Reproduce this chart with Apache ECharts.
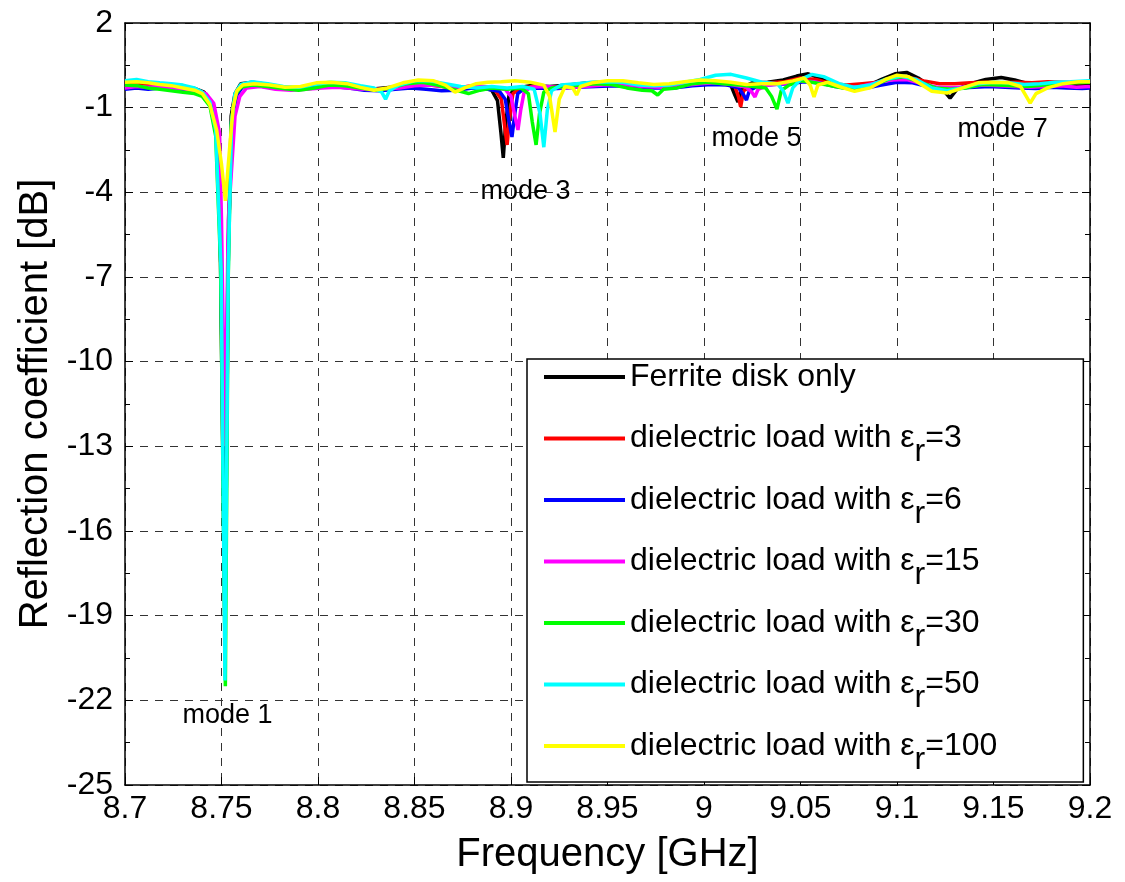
<!DOCTYPE html>
<html>
<head>
  <meta charset="UTF-8">
  <title>Reflection coefficient</title>
  <script type="text/javascript" src="https://cdn.jsdelivr.net/npm/echarts@6/dist/echarts.min.js"></script>
  <style>
    html, body { margin: 0; padding: 0; background: #fff; }
  </style>
</head>
<body>
<div id="main" style="width:1125px; height:882px;"></div>
<script>
  // ============ data ============
  var seriesNames = [
    'Ferrite disk only',
    'dielectric load with εr=3',
    'dielectric load with εr=6',
    'dielectric load with εr=15',
    'dielectric load with εr=30',
    'dielectric load with εr=50',
    'dielectric load with εr=100'
  ];
  var seriesColors = ['#000000', '#ff0000', '#0000ff', '#ff00ff', '#00ff00', '#00ffff', '#ffff00'];

  // [frequency GHz, dB]
  var ferrite = [
    [8.700,-0.05],[8.706,-0.1],[8.712,-0.12],[8.718,-0.15],[8.724,-0.2],[8.730,-0.25],[8.736,-0.32],[8.741,-0.45],
    [8.745,-0.85],[8.748,-1.9],[8.7495,-6.5],[8.7518,-19.8],[8.7535,-6.5],[8.755,-1.3],[8.757,-0.5],[8.760,-0.15],
    [8.766,-0.1],[8.774,-0.18],[8.782,-0.28],[8.790,-0.3],[8.798,-0.2],[8.806,-0.15],[8.814,-0.2],[8.822,-0.3],
    [8.830,-0.33],[8.838,-0.28],[8.846,-0.18],[8.854,-0.12],[8.862,-0.2],[8.870,-0.3],[8.878,-0.26],[8.885,-0.3],
    [8.890,-0.38],[8.893,-0.75],[8.8948,-1.9],[8.896,-2.78],[8.8972,-1.6],[8.899,-0.55],[8.903,-0.3],[8.910,-0.22],
    [8.920,-0.25],[8.930,-0.2],[8.940,-0.12],[8.950,-0.1],[8.960,-0.18],[8.970,-0.25],[8.980,-0.22],[8.990,-0.15],
    [9.000,-0.08],[9.008,-0.1],[9.014,-0.22],[9.016,-0.55],[9.0176,-0.8],[9.0195,-0.3],[9.025,-0.12],[9.033,-0.1],
    [9.041,-0.02],[9.048,0.12],[9.054,0.2],[9.060,0.05],[9.068,-0.18],[9.076,-0.28],[9.084,-0.25],[9.092,0.0],
    [9.099,0.2],[9.105,0.25],[9.111,0.05],[9.118,-0.28],[9.124,-0.38],[9.1275,-0.66],[9.131,-0.35],[9.138,-0.15],
    [9.146,0.0],[9.154,0.07],[9.161,-0.02],[9.168,-0.15],[9.176,-0.2],[9.184,-0.18],[9.192,-0.16],[9.200,-0.2]
  ];
  var er3 = [
    [8.700,-0.15],[8.706,-0.12],[8.712,-0.18],[8.718,-0.2],[8.724,-0.22],[8.730,-0.28],[8.736,-0.35],[8.741,-0.48],
    [8.745,-0.9],[8.748,-2.0],[8.7498,-6.5],[8.7518,-18.5],[8.7535,-6.0],[8.7555,-1.4],[8.758,-0.5],[8.761,-0.2],
    [8.768,-0.15],[8.776,-0.22],[8.784,-0.3],[8.792,-0.28],[8.800,-0.22],[8.808,-0.2],[8.816,-0.25],[8.824,-0.32],
    [8.832,-0.35],[8.840,-0.28],[8.848,-0.2],[8.856,-0.18],[8.864,-0.25],[8.872,-0.3],[8.880,-0.22],[8.887,-0.28],
    [8.892,-0.4],[8.895,-0.7],[8.8968,-1.7],[8.898,-2.32],[8.8993,-1.3],[8.901,-0.5],[8.905,-0.3],[8.912,-0.25],
    [8.922,-0.28],[8.932,-0.22],[8.942,-0.18],[8.952,-0.15],[8.962,-0.2],[8.972,-0.28],[8.982,-0.25],[8.992,-0.18],
    [9.002,-0.12],[9.010,-0.15],[9.016,-0.25],[9.0178,-0.6],[9.019,-0.97],[9.0205,-0.4],[9.026,-0.18],[9.034,-0.12],
    [9.042,-0.08],[9.050,0.05],[9.058,0.0],[9.066,-0.15],[9.074,-0.2],[9.082,-0.15],[9.090,-0.1],[9.098,0.05],
    [9.106,0.08],[9.114,-0.05],[9.122,-0.15],[9.130,-0.15],[9.138,-0.12],[9.146,-0.1],[9.154,-0.12],[9.162,-0.1],
    [9.170,-0.12],[9.178,-0.08],[9.186,-0.1],[9.194,-0.12],[9.200,-0.1]
  ];
  var er6 = [
    [8.700,-0.35],[8.706,-0.3],[8.712,-0.35],[8.718,-0.3],[8.724,-0.32],[8.730,-0.35],[8.736,-0.4],[8.741,-0.52],
    [8.745,-0.95],[8.748,-2.1],[8.7495,-6.0],[8.7516,-16.5],[8.7535,-5.8],[8.7555,-1.4],[8.758,-0.55],[8.761,-0.25],
    [8.768,-0.22],[8.776,-0.28],[8.784,-0.35],[8.792,-0.33],[8.800,-0.28],[8.808,-0.25],[8.816,-0.3],[8.824,-0.38],
    [8.832,-0.4],[8.840,-0.35],[8.848,-0.3],[8.856,-0.35],[8.864,-0.4],[8.872,-0.38],[8.880,-0.3],[8.888,-0.35],
    [8.894,-0.42],[8.897,-0.7],[8.899,-1.5],[8.9005,-2.04],[8.902,-1.2],[8.9035,-0.5],[8.907,-0.32],[8.914,-0.3],
    [8.924,-0.32],[8.934,-0.28],[8.944,-0.25],[8.954,-0.22],[8.964,-0.25],[8.974,-0.3],[8.984,-0.3],[8.994,-0.22],
    [9.004,-0.18],[9.012,-0.2],[9.018,-0.3],[9.0205,-0.55],[9.022,-0.73],[9.0235,-0.4],[9.028,-0.22],[9.036,-0.18],
    [9.044,-0.15],[9.052,-0.08],[9.060,-0.12],[9.068,-0.25],[9.076,-0.32],[9.084,-0.3],[9.092,-0.2],[9.100,-0.1],
    [9.108,-0.12],[9.116,-0.25],[9.124,-0.32],[9.132,-0.3],[9.140,-0.28],[9.148,-0.25],[9.156,-0.28],[9.164,-0.3],
    [9.172,-0.32],[9.180,-0.28],[9.188,-0.3],[9.196,-0.32],[9.200,-0.3]
  ];
  var er15 = [
    [8.700,-0.3],[8.706,-0.25],[8.712,-0.28],[8.718,-0.25],[8.724,-0.3],[8.730,-0.33],[8.736,-0.38],[8.742,-0.5],
    [8.746,-0.85],[8.749,-1.9],[8.750,-5.0],[8.7518,-13.0],[8.7535,-5.0],[8.757,-1.3],[8.7595,-0.6],[8.763,-0.3],
    [8.770,-0.25],[8.778,-0.35],[8.786,-0.38],[8.794,-0.35],[8.802,-0.3],[8.810,-0.28],[8.818,-0.32],[8.826,-0.36],
    [8.834,-0.35],[8.842,-0.3],[8.850,-0.22],[8.858,-0.2],[8.866,-0.25],[8.874,-0.28],[8.882,-0.22],[8.890,-0.28],
    [8.897,-0.35],[8.900,-0.6],[8.902,-1.3],[8.9036,-1.79],[8.905,-1.1],[8.9068,-0.45],[8.910,-0.28],[8.918,-0.25],
    [8.928,-0.3],[8.938,-0.25],[8.948,-0.2],[8.958,-0.18],[8.968,-0.25],[8.978,-0.28],[8.988,-0.22],[8.998,-0.15],
    [9.006,-0.12],[9.014,-0.18],[9.022,-0.28],[9.0248,-0.45],[9.0264,-0.62],[9.028,-0.35],[9.033,-0.2],[9.041,-0.15],
    [9.049,-0.05],[9.057,-0.08],[9.065,-0.2],[9.073,-0.28],[9.081,-0.25],[9.089,-0.12],[9.097,-0.02],[9.105,0.0],
    [9.113,-0.15],[9.121,-0.28],[9.129,-0.3],[9.137,-0.25],[9.145,-0.2],[9.153,-0.22],[9.161,-0.25],[9.169,-0.28],
    [9.177,-0.25],[9.185,-0.22],[9.193,-0.28],[9.200,-0.25]
  ];
  var er30 = [
    [8.700,-0.2],[8.706,-0.22],[8.712,-0.3],[8.718,-0.35],[8.724,-0.4],[8.730,-0.45],[8.736,-0.5],[8.740,-0.6],
    [8.744,-0.95],[8.747,-2.0],[8.7495,-6.5],[8.752,-21.5],[8.7535,-7.0],[8.755,-1.6],[8.757,-0.55],[8.760,-0.28],
    [8.766,-0.2],[8.774,-0.25],[8.782,-0.32],[8.790,-0.38],[8.798,-0.3],[8.806,-0.2],[8.814,-0.22],[8.822,-0.3],
    [8.830,-0.38],[8.838,-0.3],[8.846,-0.15],[8.854,-0.1],[8.862,-0.2],[8.870,-0.35],[8.878,-0.5],[8.884,-0.38],
    [8.890,-0.3],[8.898,-0.35],[8.905,-0.3],[8.909,-0.5],[8.911,-1.5],[8.913,-2.32],[8.9148,-1.2],[8.917,-0.45],
    [8.921,-0.3],[8.928,-0.25],[8.936,-0.2],[8.944,-0.15],[8.952,-0.18],[8.960,-0.3],[8.968,-0.38],[8.973,-0.4],
    [8.976,-0.55],[8.979,-0.35],[8.986,-0.3],[8.994,-0.15],[9.002,-0.1],[9.010,-0.15],[9.018,-0.2],[9.026,-0.25],
    [9.032,-0.3],[9.035,-0.6],[9.0378,-1.05],[9.040,-0.4],[9.044,-0.2],[9.050,-0.05],[9.056,-0.1],[9.064,-0.2],
    [9.072,-0.3],[9.080,-0.35],[9.088,-0.2],[9.096,0.02],[9.104,0.1],[9.112,-0.1],[9.120,-0.3],[9.128,-0.35],
    [9.136,-0.3],[9.144,-0.18],[9.152,-0.2],[9.160,-0.22],[9.168,-0.25],[9.176,-0.2],[9.184,-0.15],[9.192,-0.12],
    [9.200,-0.1]
  ];
  var er50 = [
    [8.700,-0.05],[8.706,0.0],[8.712,-0.08],[8.718,-0.12],[8.724,-0.15],[8.730,-0.2],[8.736,-0.3],[8.740,-0.45],
    [8.744,-0.8],[8.747,-1.8],[8.7498,-6.8],[8.7518,-21.3],[8.7535,-6.8],[8.7552,-1.5],[8.757,-0.5],[8.760,-0.18],
    [8.766,-0.08],[8.774,-0.15],[8.782,-0.25],[8.790,-0.28],[8.798,-0.18],[8.806,-0.1],[8.814,-0.12],[8.822,-0.22],
    [8.829,-0.3],[8.833,-0.45],[8.835,-0.7],[8.837,-0.4],[8.842,-0.2],[8.850,-0.05],[8.858,-0.05],[8.866,-0.15],
    [8.874,-0.25],[8.882,-0.3],[8.890,-0.25],[8.898,-0.3],[8.906,-0.25],[8.912,-0.35],[8.915,-1.2],[8.917,-2.4],
    [8.9188,-1.1],[8.921,-0.4],[8.926,-0.2],[8.934,-0.15],[8.942,-0.1],[8.950,-0.08],[8.958,-0.1],[8.966,-0.2],
    [8.974,-0.22],[8.982,-0.2],[8.990,-0.1],[8.998,0.0],[9.006,0.15],[9.014,0.18],[9.022,0.05],[9.030,-0.1],
    [9.038,-0.15],[9.041,-0.4],[9.0435,-0.84],[9.046,-0.3],[9.050,0.0],[9.056,0.18],[9.062,0.1],[9.070,-0.15],
    [9.078,-0.28],[9.086,-0.2],[9.094,0.0],[9.102,0.12],[9.110,0.0],[9.118,-0.3],[9.126,-0.4],[9.134,-0.3],
    [9.142,-0.15],[9.150,-0.1],[9.158,-0.12],[9.166,-0.18],[9.174,-0.15],[9.182,-0.1],[9.190,-0.08],[9.200,-0.05]
  ];
  var er100 = [
    [8.700,-0.1],[8.706,-0.08],[8.712,-0.12],[8.718,-0.18],[8.724,-0.22],[8.730,-0.3],[8.736,-0.38],[8.740,-0.5],
    [8.744,-0.9],[8.7475,-1.8],[8.750,-3.0],[8.752,-4.3],[8.754,-2.6],[8.756,-1.0],[8.758,-0.4],[8.761,-0.2],
    [8.767,-0.15],[8.775,-0.2],[8.783,-0.28],[8.791,-0.25],[8.799,-0.12],[8.807,-0.1],[8.815,-0.15],[8.822,-0.28],
    [8.829,-0.38],[8.836,-0.3],[8.844,-0.12],[8.852,-0.02],[8.860,-0.05],[8.866,-0.2],[8.871,-0.45],[8.876,-0.3],
    [8.882,-0.15],[8.888,-0.1],[8.895,-0.08],[8.902,-0.05],[8.910,-0.1],[8.917,-0.2],[8.920,-0.6],[8.9228,-1.86],
    [8.925,-0.7],[8.928,-0.25],[8.932,-0.3],[8.934,-0.55],[8.936,-0.25],[8.942,-0.12],[8.950,-0.05],[8.958,-0.05],
    [8.966,-0.12],[8.974,-0.18],[8.982,-0.15],[8.990,-0.08],[8.998,-0.02],[9.006,-0.05],[9.014,-0.1],[9.022,-0.18],
    [9.030,-0.15],[9.038,-0.15],[9.046,-0.05],[9.052,0.05],[9.055,-0.2],[9.057,-0.62],[9.059,-0.2],[9.064,-0.1],
    [9.070,-0.25],[9.078,-0.42],[9.086,-0.3],[9.094,0.0],[9.100,0.15],[9.106,0.1],[9.112,-0.15],[9.118,-0.42],
    [9.126,-0.48],[9.134,-0.3],[9.142,-0.12],[9.150,-0.1],[9.158,-0.12],[9.164,-0.25],[9.167,-0.6],[9.169,-0.84],
    [9.172,-0.5],[9.178,-0.3],[9.186,-0.15],[9.194,-0.08],[9.200,-0.08]
  ];
  var seriesData = [ferrite, er3, er6, er15, er30, er50, er100];

  // mode annotations
  var modeNames = ['mode 1', 'mode 3', 'mode 5', 'mode 7'];
  var modeFreq = [8.7534, 8.9078, 9.0275, 9.155];
  var modeDb = [-22.55, -3.99, -2.11, -1.79];

  var FONT = "'Liberation Sans', Arial, Helvetica, sans-serif";

  var chart = echarts.init(document.getElementById('main'), null, {renderer: 'canvas'});

  var series = seriesNames.map(function (name, i) {
    return {
      name: name,
      type: 'line',
      data: seriesData[i],
      symbol: 'none',
      showSymbol: false,
      animation: false,
      lineStyle: {color: seriesColors[i], width: 3.5},
      itemStyle: {color: seriesColors[i]},
      z: 2 + i
    };
  });

  series.push({
    name: 'modes',
    type: 'scatter',
    symbolSize: 1,
    animation: false,
    silent: true,
    itemStyle: {color: 'rgba(0,0,0,0)'},
    data: modeNames.map(function (m, i) { return {name: m, value: [modeFreq[i], modeDb[i]]}; }),
    label: {
      show: true,
      position: [0, 0],
      align: 'center',
      verticalAlign: 'middle',
      formatter: '{b}',
      color: '#000',
      opacity: 1,
      textBorderWidth: 0,
      fontFamily: FONT,
      fontSize: 27
    },
    z: 20
  });

  var gridLine = {show: true, lineStyle: {color: '#333', type: [8, 7], width: 1}};

  var option = {
    backgroundColor: '#fff',
    animation: false,
    grid: {left: 125, right: 35, top: 23, bottom: 97, containLabel: false},
    legend: {
      data: seriesNames,
      orient: 'vertical',
      left: 527,
      top: 359,
      padding: [0, 86, 6, 17],
      itemGap: 13.5,
      itemWidth: 81,
      itemHeight: 4,
      icon: 'rect',
      backgroundColor: '#fff',
      borderColor: '#000',
      borderWidth: 1.5,
      borderRadius: 0,
      selectedMode: false,
      formatter: function (name) {
        var m = name.match(/^dielectric load with εr=(\d+)$/);
        // every row gets the same subscript slot so the rows stay evenly spaced
        if (!m) return '{t|' + name + '}{s| }';
        return '{t|dielectric load with ε}{s|r}{t|=' + m[1] + '}';
      },
      textStyle: {
        color: '#000',
        fontFamily: FONT,
        fontSize: 32,
        rich: {
          t: {fontFamily: FONT, fontSize: 32, lineHeight: 36, color: '#000'},
          s: {fontFamily: FONT, fontSize: 32, lineHeight: 1, verticalAlign: 'top', padding: [16, 0, 0, 0], color: '#000'}
        }
      }
    },
    xAxis: [{
      type: 'value',
      min: 8.7,
      max: 9.2,
      interval: 0.05,
      name: 'Frequency [GHz]',
      nameLocation: 'middle',
      nameGap: 50,
      nameTextStyle: {fontFamily: FONT, fontSize: 40, color: '#000'},
      axisLine: {show: true, onZero: false, lineStyle: {color: '#000', width: 1.5}},
      axisTick: {show: true, inside: true, length: 8, lineStyle: {color: '#000'}},
      axisLabel: {
        fontFamily: FONT, fontSize: 32, color: '#000', margin: 8,
        showMinLabel: true, showMaxLabel: true, hideOverlap: false
      },
      splitLine: gridLine
    }, {
      type: 'value',
      position: 'top',
      min: 8.7,
      max: 9.2,
      interval: 0.05,
      axisLine: {show: true, onZero: false, lineStyle: {color: '#000', width: 1.5}},
      axisTick: {show: true, inside: true, length: 8, lineStyle: {color: '#000'}},
      axisLabel: {show: false},
      splitLine: {show: false}
    }],
    yAxis: [{
      type: 'value',
      min: -25,
      max: 2,
      interval: 3,
      name: 'Reflection coefficient [dB]',
      nameLocation: 'middle',
      nameGap: 65,
      nameTextStyle: {fontFamily: FONT, fontSize: 40, color: '#000'},
      axisLine: {show: true, onZero: false, lineStyle: {color: '#000', width: 1.5}},
      axisTick: {show: true, inside: true, length: 8, lineStyle: {color: '#000'}},
      minorTick: {show: true, splitNumber: 2, length: 5, lineStyle: {color: '#000'}},
      axisLabel: {
        fontFamily: FONT, fontSize: 32, color: '#000', margin: 12,
        showMinLabel: true, showMaxLabel: true, hideOverlap: false
      },
      splitLine: gridLine
    }, {
      type: 'value',
      position: 'right',
      min: -25,
      max: 2,
      interval: 3,
      axisLine: {show: true, onZero: false, lineStyle: {color: '#000', width: 1.5}},
      axisTick: {show: true, inside: true, length: 8, lineStyle: {color: '#000'}},
      minorTick: {show: true, splitNumber: 2, length: 5, lineStyle: {color: '#000'}},
      axisLabel: {show: false},
      splitLine: {show: false}
    }],
    series: series
  };

  chart.setOption(option);
</script>
</body>
</html>
